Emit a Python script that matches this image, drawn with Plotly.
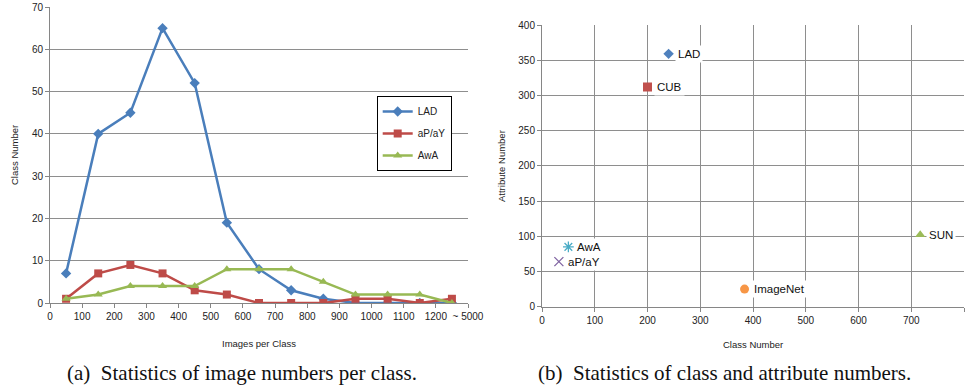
import plotly.graph_objects as go

# ---------------- data: (a) image numbers per class ----------------
bin_centers = [50, 150, 250, 350, 450, 550, 650, 750, 850, 950, 1050, 1150, 1250]
lad_counts = [7, 40, 45, 65, 52, 19, 8, 3, 1, 0, 0, 0, 0]
apay_counts = [1, 7, 9, 7, 3, 2, 0, 0, 0, 1, 1, 0, 1]
awa_counts = [1, 2, 4, 4, 4, 8, 8, 8, 5, 2, 2, 2, 0]
x_tick_vals = [0, 100, 200, 300, 400, 500, 600, 700, 800, 900, 1000, 1100, 1200, 1300]
x_tick_text = ["0", "100", "200", "300", "400", "500", "600", "700", "800", "900",
               "1000", "1100", "1200", "~ 5000"]

# ---------------- data: (b) class vs attribute numbers ----------------
datasets = ["LAD", "CUB", "SUN", "AwA", "aP/aY", "ImageNet"]
class_numbers = [240, 200, 717, 50, 32, 384]
attribute_numbers = [359, 312, 102, 85, 64, 25]

BLUE = "#4A7EBB"
RED = "#BE4B48"
GREEN = "#98B954"
CYAN = "#4BACC6"
PURPLE = "#8064A2"
ORANGE = "#F79646"
GRID = "#8E8E8E"
FONT = "Liberation Sans"

fig = go.Figure()

# ---- left chart lines ----
line_specs = [
    ("LAD", lad_counts, BLUE, "diamond", 8),
    ("aP/aY", apay_counts, RED, "square", 8),
    ("AwA", awa_counts, GREEN, "triangle-up", 8),
]
for i, (name, vals, col, sym, sz) in enumerate(line_specs):
    fig.add_trace(go.Scatter(
        x=bin_centers, y=vals, name=name, mode="lines+markers",
        line=dict(color=col, width=2.5),
        marker=dict(symbol=sym, size=sz, color=col),
        legendgroup=f"g{i}", xaxis="x", yaxis="y",
    ))

# ---- right chart scatter ----
marker_specs = {
    "LAD": dict(symbol="diamond", size=8, color="#4F81BD"),
    "CUB": dict(symbol="square", size=9, color="#C0504D"),
    "SUN": dict(symbol="triangle-up", size=9, color="#9BBB59"),
    "AwA": dict(symbol="asterisk-open", size=9, color=CYAN, line=dict(color=CYAN, width=1.3)),
    "aP/aY": dict(symbol="x-thin-open", size=9, color=PURPLE, line=dict(color=PURPLE, width=1.3)),
    "ImageNet": dict(symbol="circle", size=9, color=ORANGE),
}
for name, cx, ay in zip(datasets, class_numbers, attribute_numbers):
    fig.add_trace(go.Scatter(
        x=[cx], y=[ay], mode="markers", name=name, showlegend=False,
        marker=marker_specs[name], xaxis="x2", yaxis="y2",
    ))
    fig.add_annotation(
        x=cx, y=ay, xref="x2", yref="y2", text=name, showarrow=False,
        xanchor="left", yanchor="middle", xshift=6, bgcolor="white", borderpad=2,
        font=dict(family=FONT, size=11.5, color="#111111"),
    )

axis_common = dict(
    showline=True, linecolor="#868686", linewidth=1, ticks="outside", ticklen=4,
    tickcolor="#868686", tickfont=dict(family=FONT, size=10, color="#222222"),
    zeroline=False, automargin=False,
)

fig.update_layout(
    width=972, height=387,
    margin=dict(l=0, r=0, t=0, b=0, autoexpand=False),
    paper_bgcolor="white", plot_bgcolor="white",
    font=dict(family=FONT, size=10, color="#222222"),
    xaxis=dict(domain=[50 / 972, 468 / 972], range=[0, 1300], tickmode="array",
               tickvals=x_tick_vals, ticktext=x_tick_text, showgrid=False,
               anchor="y", **axis_common),
    yaxis=dict(domain=[84 / 387, 380 / 387], range=[0, 70], dtick=10,
               showgrid=True, gridcolor=GRID, gridwidth=1, anchor="x", **axis_common),
    xaxis2=dict(domain=[542 / 972, 964 / 972], range=[0, 800], dtick=100,
                showgrid=True, gridcolor=GRID, gridwidth=1, anchor="y2", **axis_common),
    yaxis2=dict(domain=[80.3 / 387, 362 / 387], range=[0, 400], dtick=50,
                showgrid=True, gridcolor=GRID, gridwidth=1, anchor="x2", **axis_common),
    legend=dict(x=376.7 / 972, y=(387 - 96) / 387, xanchor="left", yanchor="top",
                bordercolor="#000000", borderwidth=1, bgcolor="white",
                font=dict(family=FONT, size=10, color="#222222"),
                tracegroupgap=3, itemwidth=30),
    showlegend=True,
)

# axis titles and captions
fig.add_annotation(x=259 / 972, y=(387 - 343) / 387, xref="paper", yref="paper",
                   text="Images per Class", showarrow=False, xanchor="center", yanchor="middle",
                   font=dict(family=FONT, size=9.5, color="#222222"))
fig.add_annotation(x=14 / 972, y=(387 - 155) / 387, xref="paper", yref="paper",
                   text="Class Number", showarrow=False, textangle=-90, xanchor="center",
                   yanchor="middle", font=dict(family=FONT, size=9.5, color="#222222"))
fig.add_annotation(x=753 / 972, y=(387 - 344) / 387, xref="paper", yref="paper",
                   text="Class Number", showarrow=False, xanchor="center", yanchor="middle",
                   font=dict(family=FONT, size=9.5, color="#222222"))
fig.add_annotation(x=502 / 972, y=(387 - 166) / 387, xref="paper", yref="paper",
                   text="Attribute Number", showarrow=False, textangle=-90, xanchor="center",
                   yanchor="middle", font=dict(family=FONT, size=9.5, color="#222222"))
fig.add_annotation(x=242 / 972, y=(387 - 373) / 387, xref="paper", yref="paper",
                   text="(a)  Statistics of image numbers per class.", showarrow=False,
                   xanchor="center", yanchor="middle",
                   font=dict(family="Liberation Serif", size=21, color="#111111"))
fig.add_annotation(x=724 / 972, y=(387 - 373) / 387, xref="paper", yref="paper",
                   text="(b)  Statistics of class and attribute numbers.", showarrow=False,
                   xanchor="center", yanchor="middle",
                   font=dict(family="Liberation Serif", size=21, color="#111111"))

fig.write_html("out.html", config={"displayModeBar": False},
               post_script="document.body.style.margin='0';document.body.style.overflow='hidden';")
